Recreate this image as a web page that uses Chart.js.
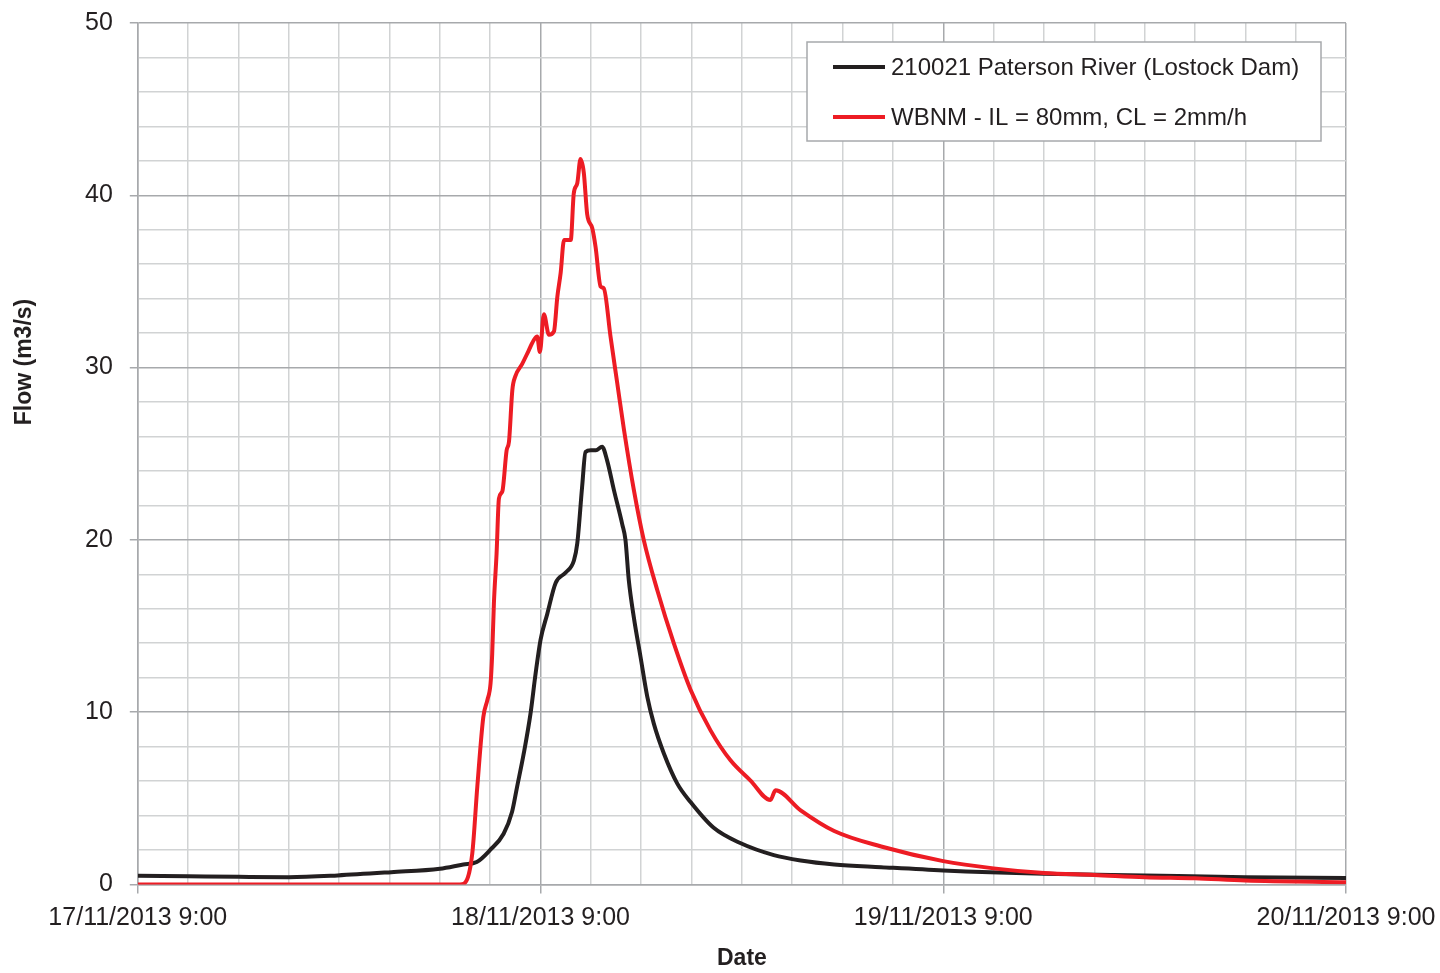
<!DOCTYPE html>
<html lang="en">
<head>
  <meta charset="UTF-8">
  <title>Paterson River flow</title>
  <script src="https://cdn.jsdelivr.net/npm/chart.js"></script>
  <style>
    body {
      margin: 0;
      background: #ffffff;
    }

    #chart-container {
      width: 1440px;
      height: 973px;
    }
  </style>
</head>
<body>

<div id="chart-container">
  <canvas id="flowChart" width="1440" height="973"></canvas>
</div>

<script>
  // hours after 17/11/2013 9:00
  const obsHours = [0, 3, 6, 9, 11.9, 15.1, 18, 19.4, 20.2, 21, 21.8, 22.3, 22.6, 23.0, 23.4, 23.7, 24.0, 24.4, 24.9, 25.5,
    25.99, 26.19, 26.48, 26.68, 27.0, 27.3, 27.67, 27.97, 28.37, 28.87, 29.06, 29.26, 29.56, 29.96, 30.36, 30.75, 31.35,
    32.15, 32.94, 34.3, 35.9, 37.9, 39.5, 41.5, 44.3, 48, 54, 60, 66, 72];
  const obsFlow = [0.5, 0.47, 0.44, 0.42, 0.52, 0.71, 0.91, 1.16, 1.3, 2.0, 2.94, 4.2, 5.65, 7.6, 9.9, 12.2, 14.2, 15.7, 17.5, 18.1,
    18.8, 19.8, 23.1, 25.1, 25.2, 25.2, 25.4, 24.6, 22.9, 20.9, 20.0, 17.65, 15.5, 13.2, 10.9, 9.33, 7.6,
    5.85, 4.78, 3.3, 2.4, 1.7, 1.39, 1.16, 1.0, 0.81, 0.62, 0.52, 0.42, 0.37];

  const modelHours = [0, 19.2, 19.43, 19.93, 20.23, 20.59, 20.83, 21.02, 21.12, 21.22, 21.38, 21.52, 21.72, 21.98, 22.12,
    22.32, 22.5, 22.9, 23.3, 23.6, 23.8, 23.96, 24.2, 24.5, 24.8, 25.0, 25.2, 25.4, 25.8, 25.98, 26.19, 26.38, 26.58,
    26.78, 27.08, 27.28, 27.58, 27.77, 28.17, 28.57, 28.97, 29.56, 30.15, 30.95, 31.94, 32.94, 34.13, 35.32, 36.5,
    37.7, 38.0, 39.5, 41.5, 44.3, 48, 51, 54, 57, 60, 63, 66, 72];
  const modelFlow = [0, 0, 0.04, 1.78, 5.65, 9.72, 10.7, 11.65, 13.4, 16.3, 19.2, 22.4, 22.8, 25.2, 25.7,
    28.7, 29.5, 30.2, 31.0, 31.6, 31.8, 30.9, 33.1, 31.9, 32.1, 34.1, 35.5, 37.4, 37.4, 40.1, 40.7, 42.1, 41.3,
    38.9, 38.1, 37.0, 34.7, 34.6, 31.8, 29.1, 26.4, 22.9, 20.0, 17.1, 14.0, 11.3, 8.94, 7.2, 6.04,
    4.9, 5.46, 4.3, 3.1, 2.2, 1.35, 0.93, 0.66, 0.55, 0.42, 0.35, 0.23, 0.13];

  const dayLabels = ["17/11/2013 9:00", "18/11/2013 9:00", "19/11/2013 9:00", "20/11/2013 9:00"];
  const seriesNames = ["210021 Paterson River (Lostock Dam)", "WBNM - IL = 80mm, CL = 2mm/h"];

  const textColor = '#231f20';
  const majorGrid = '#a7a9ac';
  const minorGrid = '#d1d3d4';

  function toPoints(xs, ys) {
    return xs.map((x, i) => ({ x: x, y: ys[i] }));
  }

  // legend box drawn inside the plot, top right
  const boxLegend = {
    id: 'boxLegend',
    afterDraw(chart) {
      const ctx = chart.ctx;
      const area = chart.chartArea;
      const w = 514, h = 99;
      const x0 = area.right - 25 - w;
      const y0 = area.top + 19;
      ctx.save();
      ctx.fillStyle = '#ffffff';
      ctx.fillRect(x0, y0, w, h);
      ctx.strokeStyle = majorGrid;
      ctx.lineWidth = 1.5;
      ctx.strokeRect(x0, y0, w, h);
      ctx.font = '24px "Liberation Sans", Arial, sans-serif';
      ctx.textBaseline = 'middle';
      ctx.fillStyle = textColor;
      chart.data.datasets.forEach((ds, i) => {
        const y = y0 + 25 + i * 50;
        ctx.strokeStyle = ds.borderColor;
        ctx.lineWidth = 4;
        ctx.beginPath();
        ctx.moveTo(x0 + 26, y);
        ctx.lineTo(x0 + 78, y);
        ctx.stroke();
        ctx.fillText(ds.label, x0 + 84, y + 1);
      });
      ctx.restore();
    }
  };

  // y axis title sits above centre in the original
  const yTitle = {
    id: 'yTitle',
    afterDraw(chart) {
      const ctx = chart.ctx;
      ctx.save();
      ctx.translate(25, 362);
      ctx.rotate(-Math.PI / 2);
      ctx.font = 'bold 23px "Liberation Sans", Arial, sans-serif';
      ctx.fillStyle = textColor;
      ctx.textAlign = 'center';
      ctx.textBaseline = 'middle';
      ctx.fillText('Flow (m3/s)', 0, 0);
      ctx.restore();
    }
  };

  const ctx = document.getElementById("flowChart").getContext("2d");
  new Chart(ctx, {
    type: 'line',
    data: {
      datasets: [{
        label: seriesNames[0],
        data: toPoints(obsHours, obsFlow),
        borderColor: '#231f20',
        borderWidth: 4,
        pointRadius: 0,
        cubicInterpolationMode: 'monotone',
        order: 1
      }, {
        label: seriesNames[1],
        data: toPoints(modelHours, modelFlow),
        borderColor: '#ed1c24',
        borderWidth: 4,
        pointRadius: 0,
        cubicInterpolationMode: 'monotone',
        order: 0
      }]
    },
    options: {
      responsive: false,
      animation: false,
      layout: {
        padding: { left: 68, top: 0, right: 0, bottom: 0 }
      },
      plugins: {
        legend: { display: false },
        tooltip: { enabled: false }
      },
      scales: {
        x: {
          type: 'linear',
          min: 0,
          max: 72,
          afterFit: scale => {
            scale.paddingRight = 94;
          },
          border: { color: majorGrid, width: 1.5 },
          grid: {
            color: c => c.tick.value % 24 === 0 ? majorGrid : minorGrid,
            lineWidth: 1.5,
            tickColor: c => c.tick.value % 24 === 0 ? majorGrid : 'rgba(0,0,0,0)',
            tickLength: 9
          },
          ticks: {
            stepSize: 3,
            autoSkip: false,
            maxRotation: 0,
            padding: 10,
            color: textColor,
            font: { family: '"Liberation Sans", Arial, sans-serif', size: 25 },
            callback: v => v % 24 === 0 ? dayLabels[v / 24] : ''
          },
          title: {
            display: true,
            text: 'Date',
            color: textColor,
            font: { family: '"Liberation Sans", Arial, sans-serif', size: 23, weight: 'bold' },
            padding: { top: 1, bottom: 1 }
          }
        },
        y: {
          min: 0,
          max: 50,
          afterFit: scale => {
            scale.paddingTop = 23;
          },
          border: { color: majorGrid, width: 1.5 },
          grid: {
            color: c => c.tick.value % 10 === 0 ? majorGrid : minorGrid,
            lineWidth: 1.5,
            tickColor: c => c.tick.value % 10 === 0 ? majorGrid : 'rgba(0,0,0,0)',
            tickLength: 8
          },
          ticks: {
            stepSize: 2,
            padding: 17,
            color: textColor,
            font: { family: '"Liberation Sans", Arial, sans-serif', size: 25 },
            callback: v => v % 10 === 0 ? v : ''
          }
        }
      }
    },
    plugins: [boxLegend, yTitle]
  });
</script>
</body>
</html>
